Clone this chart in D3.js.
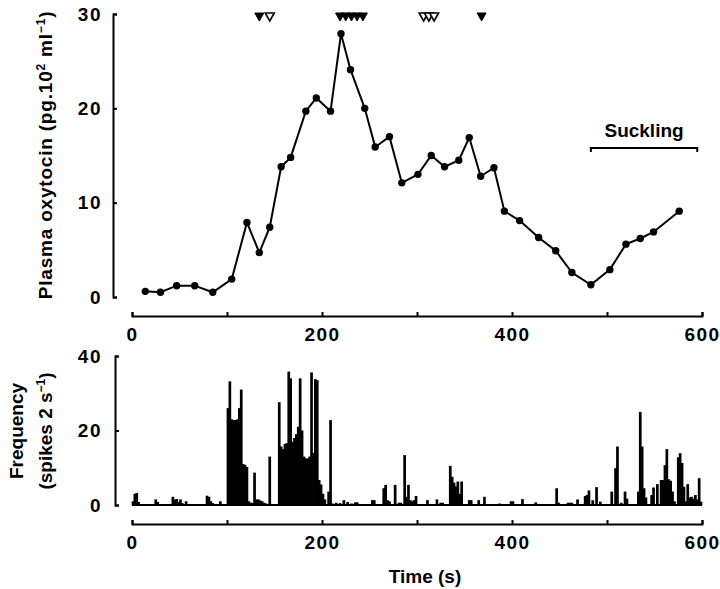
<html>
<script src='https://d3js.org/d3.v7.min.js'></script>
<style>
 body {margin:0; background:#fff;}
 text {font-family: 'Liberation Sans', Arial, sans-serif; font-weight: bold; fill: #000;}
 .axis path, .axis line {stroke: #000; stroke-width: 2;}
 .axis text {font-size: 19px; letter-spacing: 1.5px; font-family: 'Liberation Sans', Arial, sans-serif; font-weight: bold;}
</style>
<body onload='init()'>
<svg width=720 height=589></svg>
<script>
// plasma oxytocin samples
var oxyTime = [14,30,47,66,85,105,121,134,145,157,167,183,194,209,220,230,245,256,271,284,301,315,329,344,355,367,381,392,408,428,446,463,483,503,520,535,549,576];
var oxyConc = [0.6,0.5,1.2,1.2,0.5,1.9,7.9,4.7,7.4,13.8,14.8,19.7,21.1,19.7,27.9,24.1,20.0,15.9,17.0,12.1,13.0,15.0,13.8,14.5,16.9,12.8,13.7,9.1,8.1,6.3,4.9,2.6,1.3,2.9,5.6,6.2,6.9,9.1];

// milk ejection markers
var filledMarks = [134,219,225,231,237,243,368];
var openMarks = [145,307,312.5,318];
var suckling = [483,595];

// firing rate, 2 s bins: [bin start (s), spikes per 2 s]
var spikeBins = [
 [0,1.0],[2,3.0],[4,3.2],[6,0.8],[24,1.5],[26,0.8],[42,2.2],[44,1.5],[46,1.6],[48,0.8],[50,1.5],[52,0.5],[56,1.0],
 [78,2.5],[80,2.2],[82,1.0],[84,0.5],[92,1.0],
 [100,26],[102,33.2],[104,23],[106,22.8],[108,22.8],[110,23],[112,26],[114,31],[116,11],[118,10.8],[120,10.2],
 [122,1.0],[124,0.6],[126,0.6],[128,8.7],[130,1.5],[132,1.5],[134,1.2],[136,1.0],[138,0.6],[140,0.4],[144,13],
 [154,27.6],[156,15.7],[158,15],[160,16.4],[162,16.6],[164,35.8],[166,34],[168,17],[170,18],[172,19],[174,21],
 [176,34],[178,20],[180,13],[182,12.5],[184,12.5],[186,13],[188,35.6],[190,14],[192,33.8],[194,33.5],[196,6.7],
 [198,5.5],[200,3],[202,1.5],[206,3.6],[208,22.8],[210,0.4],[214,0.6],[218,0.5],[222,1.3],[226,0.8],[230,0.4],
 [234,0.7],[236,0.7],[252,1.3],[254,1.3],[264,4.5],[266,5.4],[268,1.3],[270,1.0],[276,5.4],[280,0.6],[282,0.6],
 [286,13.4],[288,2.2],[290,5.4],[292,1.3],[294,1.0],[296,1.3],[298,2.4],[310,1.3],[320,1.5],[324,0.6],[326,0.6],
 [334,10.5],[336,7.6],[338,6],[340,5],[342,6.3],[344,3],[346,6.3],[354,1.3],[356,1.3],[364,1.3],[370,2.2],
 [386,0.4],[398,1],[400,1],[410,1.6],[424,0.7],[446,4.5],[448,0.6],[458,0.6],[460,0.6],[462,0.6],[468,1.5],
 [476,2.4],[478,2.7],[480,3.9],[484,1.3],[488,4.8],[492,0.9],[504,3.6],[508,9.9],[510,15.7],[514,0.6],[518,3.6],
 [520,1.7],[532,3.6],[534,25],[536,15.7],[538,4.5],[540,2],[546,2.7],[548,4.7],[552,5.6],[556,6.7],[558,6.7],
 [560,10.7],[562,15],[564,6.9],[566,6.5],[568,3.6],[570,1],[574,12.8],[576,13.9],[578,11.3],[580,4.9],[582,1],
 [584,5.6],[586,2],[588,2.2],[590,1.7],[592,2.7],[594,1.5],[596,7.2],[598,0.9]
];

var xTicks = [0,100,200,300,400,500,600];
var oxyTicks = [0,10,20,30];
var rateTicks = [0,20,40];

function init() {
 var svg = d3.select('svg');
 var x = d3.scaleLinear().domain([0,600]).range([132,702]);
 var yTop = d3.scaleLinear().domain([0,30]).range([297,14]);
 var yBot = d3.scaleLinear().domain([0,40]).range([505,356]);
 var lab = function(d) { return d % 200 === 0 ? d : ''; };

 // axes
 svg.append('g').attr('class','axis').attr('transform','translate(113,0)')
   .call(d3.axisLeft(yTop).tickValues(oxyTicks).tickSize(-4).tickPadding(11));
 svg.append('g').attr('class','axis').attr('transform','translate(0,316)')
   .call(d3.axisBottom(x).tickValues(xTicks).tickFormat(lab).tickSize(-4).tickPadding(12));
 svg.append('g').attr('class','axis').attr('transform','translate(115,0)')
   .call(d3.axisLeft(yBot).tickValues(rateTicks).tickSize(-4).tickPadding(13));
 svg.append('g').attr('class','axis').attr('transform','translate(0,524)')
   .call(d3.axisBottom(x).tickValues(xTicks).tickFormat(lab).tickSize(-4).tickPadding(12));

 // oxytocin line
 var pts = oxyTime.map(function(t,i){ return [t, oxyConc[i]]; });
 svg.append('path').datum(pts)
   .attr('fill','none').attr('stroke','#000').attr('stroke-width',2)
   .attr('d', d3.line().x(function(d){return x(d[0]);}).y(function(d){return yTop(d[1]);}));
 svg.append('g').selectAll('circle').data(pts).enter().append('circle')
   .attr('cx', function(d){return x(d[0]);})
   .attr('cy', function(d){return yTop(d[1]);})
   .attr('r', 3.7).attr('fill','#000');

 // markers
 var tri = function(cx) { return 'M'+(cx-4.5)+',13 L'+(cx+4.5)+',13 L'+cx+',21 Z'; };
 svg.append('g').selectAll('path').data(openMarks).enter().append('path')
   .attr('d', function(d){return tri(x(d));})
   .attr('fill','#fff').attr('stroke','#000').attr('stroke-width',1.6);
 svg.append('g').selectAll('path').data(filledMarks).enter().append('path')
   .attr('d', function(d){return tri(x(d));})
   .attr('fill','#000').attr('stroke','#000').attr('stroke-width',1);

 // suckling bracket
 var s0 = x(suckling[0]), s1 = x(suckling[1]);
 svg.append('path')
   .attr('d','M'+s0+',152 L'+s0+',148 L'+s1+',148 L'+s1+',152')
   .attr('fill','none').attr('stroke','#000').attr('stroke-width',2);
 svg.append('text').attr('x',(s0+s1)/2).attr('y',137).attr('text-anchor','middle')
   .style('font-size','19px').text('Suckling');

 // firing rate bars
 svg.append('line').attr('x1',x(0)).attr('x2',x(600)).attr('y1',yBot(0)).attr('y2',yBot(0))
   .attr('stroke','#000').attr('stroke-width',2);
 svg.append('g').selectAll('rect').data(spikeBins).enter().append('rect')
   .attr('x', function(d){return x(d[0]) - 0.4;})
   .attr('width', function(d){return x(d[0]+2)-x(d[0]) + 0.8;})
   .attr('y', function(d){return yBot(d[1]);})
   .attr('height', function(d){return yBot(0)-yBot(d[1]);})
   .attr('fill','#000');

 // axis titles
 svg.append('text').attr('transform','translate(52,155) rotate(-90)').attr('text-anchor','middle')
   .style('font-size','19px').style('letter-spacing','0.8px')
   .html('Plasma oxytocin (pg.10<tspan dy="-7" font-size="12">2</tspan><tspan dy="7"> ml</tspan><tspan dy="-7" font-size="12">\u22121</tspan><tspan dy="7">)</tspan>');
 svg.append('text').attr('transform','translate(23,431) rotate(-90)').attr('text-anchor','middle')
   .style('font-size','19px').text('Frequency');
 svg.append('text').attr('transform','translate(52,431) rotate(-90)').attr('text-anchor','middle')
   .style('font-size','19px')
   .html('(spikes 2 s<tspan dy="-7" font-size="12">\u22121</tspan><tspan dy="7">)</tspan>');
 svg.append('text').attr('x',425).attr('y',583).attr('text-anchor','middle')
   .style('font-size','19px').text('Time (s)');
}
</script>
</body>
</html>
